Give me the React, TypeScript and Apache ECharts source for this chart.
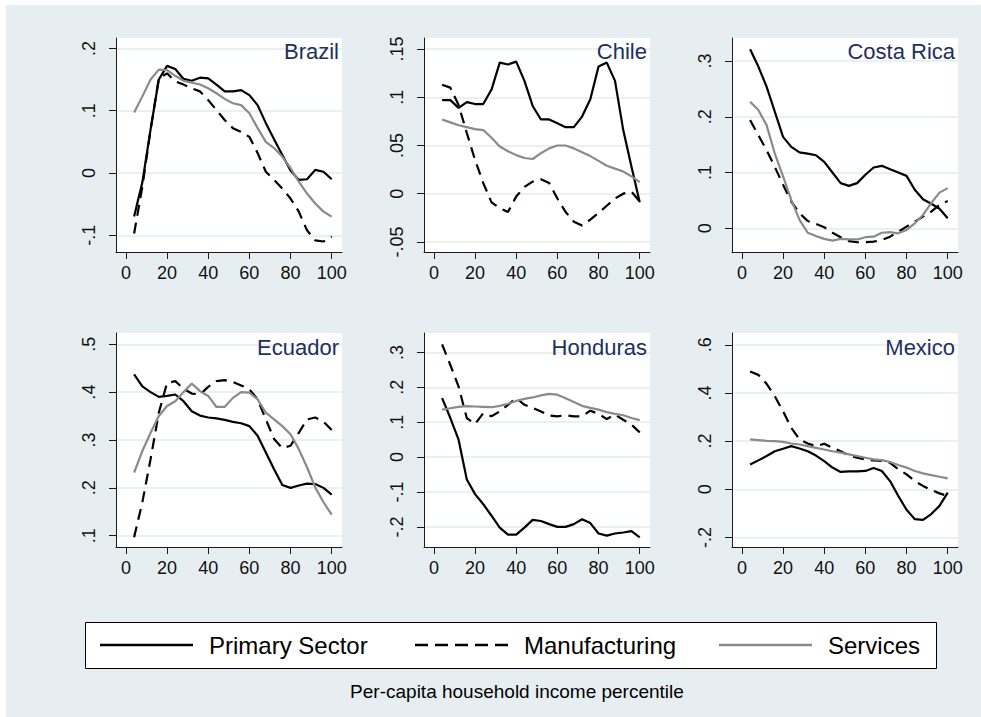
import React, { useEffect, useRef } from "react";
import * as echarts from "echarts";

// ---------- DATA ----------
const percentiles = [4, 8, 12, 16, 20, 24, 28, 32, 36, 40, 44, 48, 52, 56, 60, 64, 68, 72, 76, 80, 84, 88, 92, 96, 100];
const countries = ["Brazil", "Chile", "Costa Rica", "Ecuador", "Honduras", "Mexico"];
const sectorNames = ["Primary Sector", "Manufacturing", "Services"];
const xAxisTitle = "Per-capita household income percentile";
const xTicks = [0, 20, 40, 60, 80, 100];

const brazilPrimary = [-0.07, -0.015, 0.07, 0.15, 0.172, 0.167, 0.151, 0.148, 0.153, 0.152, 0.142, 0.131, 0.131, 0.133, 0.125, 0.109, 0.08, 0.054, 0.029, 0.004, -0.011, -0.01, 0.005, 0.002, -0.01];
const brazilManufacturing = [-0.097, -0.022, 0.069, 0.152, 0.16, 0.147, 0.142, 0.136, 0.131, 0.117, 0.101, 0.085, 0.072, 0.066, 0.058, 0.032, 0.002, -0.011, -0.025, -0.041, -0.062, -0.092, -0.108, -0.11, -0.102];
const brazilServices = [0.097, 0.123, 0.15, 0.166, 0.165, 0.156, 0.148, 0.145, 0.142, 0.136, 0.128, 0.119, 0.112, 0.109, 0.096, 0.072, 0.05, 0.04, 0.026, 0.008, -0.014, -0.033, -0.049, -0.062, -0.07];

const chilePrimary = [0.097, 0.097, 0.089, 0.095, 0.093, 0.093, 0.108, 0.136, 0.134, 0.137, 0.117, 0.091, 0.077, 0.077, 0.073, 0.069, 0.069, 0.08, 0.098, 0.132, 0.136, 0.117, 0.066, 0.028, -0.009];
const chileManufacturing = [0.113, 0.11, 0.092, 0.063, 0.035, 0.011, -0.009, -0.015, -0.019, -0.003, 0.007, 0.0125, 0.015, 0.011, -0.005, -0.019, -0.029, -0.033, -0.027, -0.02, -0.0125, -0.005, 0.0, 0.002, -0.008];
const chileServices = [0.077, 0.074, 0.071, 0.069, 0.067, 0.066, 0.058, 0.049, 0.044, 0.04, 0.037, 0.036, 0.042, 0.047, 0.05, 0.05, 0.047, 0.043, 0.039, 0.034, 0.029, 0.026, 0.023, 0.018, 0.012];

const costaRicaPrimary = [0.321, 0.29, 0.254, 0.209, 0.164, 0.146, 0.136, 0.134, 0.131, 0.119, 0.1, 0.081, 0.076, 0.081, 0.096, 0.109, 0.112, 0.106, 0.1, 0.094, 0.069, 0.052, 0.044, 0.035, 0.018];
const costaRicaManufacturing = [0.194, 0.167, 0.14, 0.11, 0.078, 0.048, 0.027, 0.013, 0.008, 0.002, -0.008, -0.016, -0.023, -0.025, -0.025, -0.024, -0.021, -0.015, -0.006, 0.003, 0.012, 0.021, 0.03, 0.042, 0.049];
const costaRicaServices = [0.227, 0.212, 0.185, 0.134, 0.093, 0.051, 0.015, -0.008, -0.014, -0.019, -0.022, -0.019, -0.02, -0.02, -0.016, -0.015, -0.008, -0.007, -0.009, -0.003, 0.009, 0.024, 0.045, 0.064, 0.072];

const ecuadorPrimary = [0.437, 0.412, 0.4, 0.39, 0.392, 0.395, 0.381, 0.36, 0.351, 0.347, 0.345, 0.342, 0.338, 0.335, 0.329, 0.309, 0.274, 0.239, 0.206, 0.2, 0.205, 0.209, 0.208, 0.2, 0.186];
const ecuadorManufacturing = [0.097, 0.17, 0.26, 0.357, 0.419, 0.423, 0.407, 0.397, 0.395, 0.411, 0.423, 0.425, 0.421, 0.414, 0.406, 0.385, 0.343, 0.302, 0.283, 0.288, 0.315, 0.343, 0.347, 0.338, 0.321];
const ecuadorServices = [0.232, 0.277, 0.315, 0.35, 0.371, 0.381, 0.4, 0.418, 0.402, 0.392, 0.369, 0.369, 0.388, 0.4, 0.399, 0.385, 0.357, 0.343, 0.329, 0.312, 0.281, 0.243, 0.201, 0.17, 0.144];

const hondurasPrimary = [0.169, 0.112, 0.05, -0.064, -0.106, -0.135, -0.168, -0.202, -0.222, -0.222, -0.202, -0.18, -0.183, -0.192, -0.2, -0.2, -0.192, -0.178, -0.189, -0.219, -0.225, -0.219, -0.216, -0.212, -0.23];
const hondurasManufacturing = [0.323, 0.264, 0.202, 0.112, 0.095, 0.126, 0.117, 0.131, 0.15, 0.169, 0.15, 0.141, 0.131, 0.119, 0.117, 0.12, 0.117, 0.117, 0.133, 0.124, 0.109, 0.122, 0.107, 0.093, 0.071];
const hondurasServices = [0.136, 0.14, 0.144, 0.146, 0.145, 0.144, 0.143, 0.147, 0.153, 0.161, 0.167, 0.171, 0.177, 0.181, 0.179, 0.169, 0.158, 0.147, 0.141, 0.136, 0.129, 0.124, 0.12, 0.112, 0.106];

const mexicoPrimary = [0.103, 0.12, 0.138, 0.158, 0.168, 0.179, 0.169, 0.158, 0.14, 0.117, 0.09, 0.072, 0.074, 0.074, 0.076, 0.088, 0.076, 0.034, -0.028, -0.085, -0.124, -0.127, -0.103, -0.069, -0.014];
const mexicoManufacturing = [0.489, 0.475, 0.438, 0.386, 0.324, 0.255, 0.207, 0.19, 0.179, 0.189, 0.172, 0.158, 0.14, 0.131, 0.124, 0.12, 0.118, 0.11, 0.083, 0.062, 0.034, 0.014, -0.003, -0.017, -0.028];
const mexicoServices = [0.207, 0.204, 0.201, 0.2, 0.197, 0.19, 0.186, 0.179, 0.172, 0.165, 0.158, 0.152, 0.145, 0.138, 0.131, 0.124, 0.121, 0.113, 0.101, 0.09, 0.076, 0.066, 0.059, 0.052, 0.045];

const seriesByCountry = [
  [brazilPrimary, brazilManufacturing, brazilServices],
  [chilePrimary, chileManufacturing, chileServices],
  [costaRicaPrimary, costaRicaManufacturing, costaRicaServices],
  [ecuadorPrimary, ecuadorManufacturing, ecuadorServices],
  [hondurasPrimary, hondurasManufacturing, hondurasServices],
  [mexicoPrimary, mexicoManufacturing, mexicoServices],
];

const yTickValues = [
  [-0.1, 0, 0.1, 0.2],
  [-0.05, 0, 0.05, 0.1, 0.15],
  [0, 0.1, 0.2, 0.3],
  [0.1, 0.2, 0.3, 0.4, 0.5],
  [-0.2, -0.1, 0, 0.1, 0.2, 0.3],
  [-0.2, 0, 0.2, 0.4, 0.6],
];
const yTickLabels = [
  ["-.1", "0", ".1", ".2"],
  ["-.05", "0", ".05", ".1", ".15"],
  ["0", ".1", ".2", ".3"],
  [".1", ".2", ".3", ".4", ".5"],
  ["-.2", "-.1", "0", ".1", ".2", ".3"],
  ["-.2", "0", ".2", ".4", ".6"],
];

// ---------- LAYOUT / STYLE ----------
const yRanges = [
  [-0.1268, 0.2167],
  [-0.0605, 0.1615],
  [-0.0425, 0.3412],
  [0.0765, 0.5235],
  [-0.2576, 0.3557],
  [-0.2397, 0.6488],
];
const xRange = [-4.8, 105];
const colLeft = [116, 424, 732];
const rowTop = [38, 333];
const plotW = 226;
const plotH = 214;

const BG = "#e7eef1";
const GRID_LINE = "#e3ebee";
const AXIS = "#1a1a1a";
const TITLE_COLOR = "#1e2f5e";
const FONT = '"Liberation Sans", Arial, Helvetica, sans-serif';
const lineColors = ["#000000", "#000000", "#8a8a8a"];
const lineTypes: any[] = ["solid", [11, 7], "solid"];

export default function App() {
  const ref = useRef<HTMLDivElement>(null);

  useEffect(() => {
    if (!ref.current) return;
    const chart = echarts.init(ref.current, undefined, { renderer: "svg" });

    const grids: any[] = [];
    const xAxes: any[] = [];
    const yAxes: any[] = [];
    const series: any[] = [];
    const graphics: any[] = [];

    countries.forEach((name, i) => {
      const col = i % 3;
      const row = Math.floor(i / 3);
      const left = colLeft[col];
      const top = rowTop[row];
      grids.push({
        left,
        top,
        width: plotW,
        height: plotH,
        show: true,
        backgroundColor: "#ffffff",
        borderWidth: 0,
        containLabel: false,
      });
      xAxes.push({
        type: "value",
        gridIndex: i,
        min: xRange[0],
        max: xRange[1],
        axisLine: { show: true, onZero: false, lineStyle: { color: AXIS, width: 1 } },
        axisTick: { show: true, length: 7, inside: false, customValues: xTicks, lineStyle: { color: AXIS } },
        axisLabel: {
          customValues: xTicks,
          margin: 12,
          color: "#111",
          fontSize: 18,
          fontFamily: FONT,
        },
        splitLine: { show: false },
      });
      const tv = yTickValues[i];
      const tl = yTickLabels[i];
      yAxes.push({
        type: "value",
        gridIndex: i,
        min: yRanges[i][0],
        max: yRanges[i][1],
        axisLine: { show: true, onZero: false, lineStyle: { color: AXIS, width: 1 } },
        axisTick: { show: true, length: 7, inside: false, customValues: tv, lineStyle: { color: AXIS } },
        axisLabel: {
          customValues: tv,
          rotate: 90,
          margin: 18,
          color: "#111",
          fontSize: 18,
          fontFamily: FONT,
          formatter: (v: number) => {
            let best = 0;
            let bd = Infinity;
            tv.forEach((t, k) => {
              const d = Math.abs(t - v);
              if (d < bd) {
                bd = d;
                best = k;
              }
            });
            return tl[best];
          },
        },
        splitLine: { show: true, lineStyle: { color: GRID_LINE, width: 1.5 } },
      });
      seriesByCountry[i].forEach((vals, s) => {
        series.push({
          type: "line",
          name: sectorNames[s],
          xAxisIndex: i,
          yAxisIndex: i,
          data: percentiles.map((p, k) => [p, vals[k]]),
          symbol: "none",
          smooth: false,
          lineStyle: { color: lineColors[s], width: 2.2, type: lineTypes[s] },
          itemStyle: { color: lineColors[s] },
          z: 3 + s,
        });
      });
      graphics.push({
        type: "text",
        z: 100,
        style: {
          text: name,
          x: left + plotW - 3,
          y: top + (row === 0 ? 13.7 : 14.4),
          align: "right",
          verticalAlign: "middle",
          fill: TITLE_COLOR,
          fontSize: 22,
          fontFamily: FONT,
        },
      });
    });

    // white outer frame (top/left) of the exported image
    graphics.push({ type: "rect", z: 100, shape: { x: 0, y: 0, width: 981, height: 5 }, style: { fill: "#ffffff" } });
    graphics.push({ type: "rect", z: 100, shape: { x: 0, y: 0, width: 6, height: 717 }, style: { fill: "#ffffff" } });

    // legend box
    const legY = 645;
    graphics.push({
      type: "rect",
      z: 100,
      shape: { x: 85.5, y: 622.5, width: 851, height: 46 },
      style: { fill: "#ffffff", stroke: "#000000", lineWidth: 1 },
    });
    const keyX = [[100, 193], [415, 508], [719, 812]];
    const textX = [209, 524, 828];
    sectorNames.forEach((n, s) => {
      graphics.push({
        type: "line",
        z: 101,
        shape: { x1: keyX[s][0], y1: legY, x2: keyX[s][1], y2: legY },
        style: {
          stroke: lineColors[s],
          lineWidth: 2.5,
          lineDash: s === 1 ? [13, 7] : null,
        },
      });
      graphics.push({
        type: "text",
        z: 101,
        style: {
          text: n,
          x: textX[s],
          y: legY,
          align: "left",
          verticalAlign: "middle",
          fill: "#000000",
          fontSize: 24,
          fontFamily: FONT,
        },
      });
    });
    graphics.push({
      type: "text",
      z: 100,
      style: {
        text: xAxisTitle,
        x: 517,
        y: 691,
        align: "center",
        verticalAlign: "middle",
        fill: "#000000",
        fontSize: 19,
        fontFamily: FONT,
      },
    });

    chart.setOption({
      animation: false,
      backgroundColor: BG,
      grid: grids,
      xAxis: xAxes,
      yAxis: yAxes,
      series,
      graphic: graphics,
    });

    return () => chart.dispose();
  }, []);

  return (
    <div
      ref={ref}
      style={{ position: "fixed", left: 0, top: 0, width: 981, height: 717 }}
    />
  );
}
